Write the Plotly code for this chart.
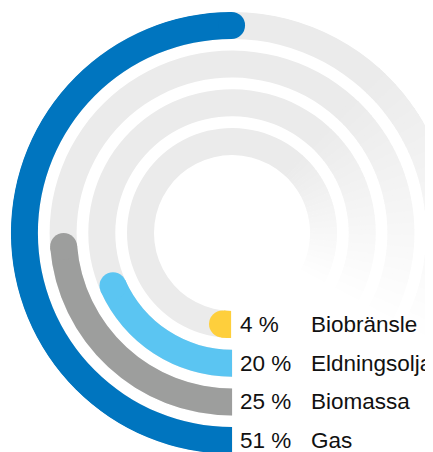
import numpy as np
import plotly.graph_objects as go

# data, inner ring first
categories = ["Biobränsle", "Eldningsolja", "Biomassa", "Gas"]
values = [4, 20, 25, 51]
labels = ["4 %", "20 %", "25 %", "51 %"]
colors = ["#fecf3c", "#5bc5f2", "#9d9e9d", "#0075bf"]

# geometry (radial units are ~1 px); page body has an 8px margin
OFF = 8
W, H = 456, 456
CX, CY = 232 - OFF, 233 - OFF
R_MAX = 221.5
HOLE = 78
STEP = 38.7
THICK = 27
TRACK = "#ebebeb"

fig = go.Figure()

# background tracks, solid then fading out towards bottom right
n_fade = 40
fade_start, fade_end = 222, 300
seg_r, seg_base, seg_theta, seg_width, seg_color = [], [], [], [], []
c0 = np.array([0xeb, 0xeb, 0xeb])
c1 = np.array([0xff, 0xff, 0xff])
for i in range(len(categories)):
    base = HOLE + i * STEP
    seg_r.append(THICK)
    seg_base.append(base)
    seg_theta.append(fade_start / 2)
    seg_width.append(fade_start + 0.3)
    seg_color.append(TRACK)
    step = (fade_end - fade_start) / n_fade
    for k in range(n_fade):
        t = (k + 0.5) / n_fade
        c = (c0 + (c1 - c0) * t).round().astype(int)
        seg_r.append(THICK)
        seg_base.append(base)
        seg_theta.append(fade_start + (k + 0.5) * step)
        seg_width.append(step + 0.3)
        seg_color.append("rgb(%d,%d,%d)" % tuple(c))

fig.add_trace(go.Barpolar(
    r=seg_r, base=seg_base, theta=seg_theta, width=seg_width,
    marker=dict(color=seg_color, line=dict(width=0)),
    hoverinfo="skip", showlegend=False
))

# value bars with a rounded end
for i, (name, v, col) in enumerate(zip(categories, values, colors)):
    base = HOLE + i * STEP
    mid = base + THICK / 2
    end = v * 3.6
    cap = np.degrees((THICK / 2) / mid)
    arc = end - cap
    fig.add_trace(go.Barpolar(
        r=[THICK], base=[base], theta=[arc / 2], width=[arc],
        marker=dict(color=col, line=dict(width=0)),
        name=name, showlegend=False
    ))
    fig.add_trace(go.Scatterpolar(
        r=[mid], theta=[arc], mode="markers",
        marker=dict(color=col, size=THICK, line=dict(width=0)),
        hoverinfo="skip", showlegend=False
    ))
    # short bars: keep the start edge flat
    if arc < cap:
        fig.add_trace(go.Scatterpolar(
            r=[np.hypot(mid, THICK / 2)], theta=[-cap], mode="markers",
            marker=dict(color="white", size=THICK + 2, symbol="square",
                        line=dict(width=0)),
            hoverinfo="skip", showlegend=False
        ))

# labels next to the ring starts
annotations = []
for i, (name, lab) in enumerate(zip(categories, labels)):
    mid = HOLE + i * STEP + THICK / 2
    ypx = CY + mid
    for txt, xpx in ((lab, 238 - OFF), (name, 309 - OFF)):
        annotations.append(dict(
            text=txt, x=xpx / W, y=1 - ypx / H, xref="paper", yref="paper",
            xanchor="left", yanchor="middle", showarrow=False,
            font=dict(family="Liberation Sans, Arial, sans-serif", size=22.5, color="#111111")
        ))

fig.update_layout(
    template="none",
    width=W, height=H,
    margin=dict(l=0, r=0, t=0, b=0),
    paper_bgcolor="white",
    showlegend=False,
    annotations=annotations,
    polar=dict(
        domain=dict(x=[(CX - R_MAX) / W, (CX + R_MAX) / W],
                    y=[1 - (CY + R_MAX) / H, 1 - (CY - R_MAX) / H]),
        bgcolor="white",
        bargap=0,
        hole=0,
        radialaxis=dict(range=[0, R_MAX], visible=False, showgrid=False),
        angularaxis=dict(rotation=-90, direction="clockwise", visible=False,
                         showgrid=False, thetaunit="degrees"),
    ),
)

fig.write_html("out.html")
